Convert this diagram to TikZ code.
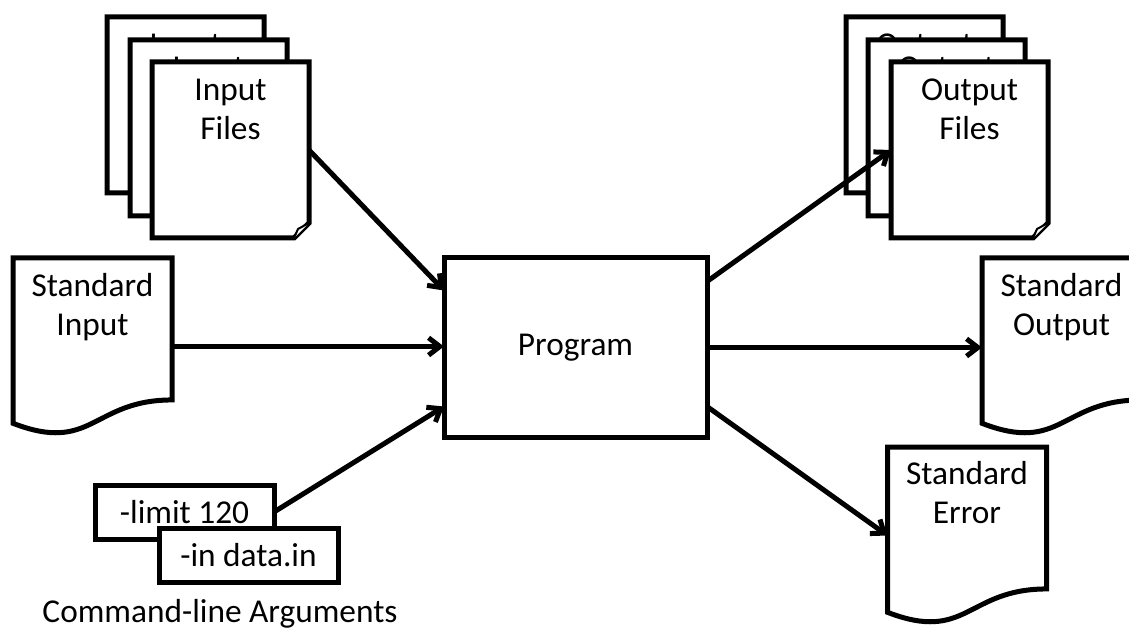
\documentclass[tikz,border=0pt]{standalone}
\usepackage{fontspec}
\setmainfont{Carlito}
\usetikzlibrary{arrows.meta,calc}
\newcommand\diagfont{\fontsize{25pt}{29.3pt}\selectfont}
% page with a folded bottom-right corner, drawn on the frame of node #1
\newcommand\filedoc[1]{%
  \filldraw[outline] (#1.north west) -- (#1.north east)
    -- ($(#1.south east)+(0,-15)$) -- ($(#1.south east)+(-15,0)$)
    -- (#1.south west) -- cycle;
  \filldraw[line width=1.5pt, fill=white, line join=round]
    ($(#1.south east)+(-15,0)$) -- ($(#1.south east)+(-11,-9)$)
    -- ($(#1.south east)+(0,-15)$);
}
% flowchart document shape with a wavy bottom edge on the frame of node #1
\newcommand\wavedoc[1]{%
  \filldraw[outline] (#1.north west) -- (#1.north east)
    -- ($(#1.north east)!0.802!(#1.south east)$)
    .. controls ($(#1.north)!0.802!(#1.south)$) and ($(#1.north)!1.1075!(#1.south)$)
    .. ($(#1.north west)!0.934!(#1.south west)$) -- cycle;
}
\begin{document}
\begin{tikzpicture}[x=0.75pt,y=-0.75pt,
  outline/.style={line width=3.75pt, draw=black, fill=white},
  filebox/.style={inner sep=0pt, outer sep=0pt, minimum width=117.75pt, minimum height=132pt},
  wavebox/.style={inner sep=0pt, outer sep=0pt, minimum width=119.25pt, minimum height=132.75pt},
  progbox/.style={draw, line width=3.75pt, fill=white, inner sep=0pt, outer sep=0pt,
    minimum width=197.25pt, minimum height=134.25pt, font=\diagfont},
  argbox/.style={draw, line width=3.75pt, fill=white, inner sep=0pt, outer sep=0pt,
    minimum width=134.25pt, minimum height=40.5pt, font=\diagfont},
  doctext/.style={font=\diagfont, align=center, inner sep=0pt, anchor=north},
  arrow/.style={line width=3.75pt, -{Straight Barb[length=8.5pt,width=13pt]}}
]
\clip (0,0) rectangle (1129,631);

% stack of input files
\node[filebox] (inback) at (185.5,105) {};
\filedoc{inback}
\node[doctext] (inbacktext) at ($(inback.north)+(0,11)$) {\strut Input\\Files};
\node[filebox] (inmid) at (208.5,128) {};
\filedoc{inmid}
\node[doctext] (inmidtext) at ($(inmid.north)+(0,11)$) {\strut Input\\Files};
\node[filebox] (infront) at (230.5,150) {};
\filedoc{infront}
\node[doctext] (infronttext) at ($(infront.north)+(0,11)$) {\strut Input\\Files};

% stack of output files
\node[filebox] (outback) at (924.5,105) {};
\filedoc{outback}
\node[doctext] (outbacktext) at ($(outback.north)+(0,11)$) {\strut Output\\Files};
\node[filebox] (outmid) at (946.5,128) {};
\filedoc{outmid}
\node[doctext] (outmidtext) at ($(outmid.north)+(0,11)$) {\strut Output\\Files};
\node[filebox] (outfront) at (969.5,150) {};
\filedoc{outfront}
\node[doctext] (outfronttext) at ($(outfront.north)+(0,11)$) {\strut Output\\Files};

% standard streams
\node[wavebox] (stdin) at (92.5,346.5) {};
\wavedoc{stdin}
\node[doctext] (stdintext) at ($(stdin.north)+(0,11)$) {\strut Standard\\Input};

\node[wavebox] (stdout) at (1061.5,346.5) {};
\wavedoc{stdout}
\node[doctext] (stdouttext) at ($(stdout.north)+(0,11)$) {\strut Standard\\Output};

\node[wavebox] (stderr) at (967,535.5) {};
\wavedoc{stderr}
\node[doctext] (stderrtext) at ($(stderr.north)+(0,10)$) {\strut Standard\\Error};

% program
\node[progbox] (prog) at (575.5,347.5) {Program};

% command-line arguments
\node[argbox] (limit) at (184.5,512) {-limit 120};
\node[argbox] (datain) at (248.5,555) {-in data.in};
\node[font=\diagfont, anchor=base, inner sep=0pt] (cmdlabel) at (220,622) {Command-line Arguments};

% data flow
\draw[arrow] (infront.east) -- ($(prog.west)+(0,-57)$);
\draw[arrow] (stdin.east) -- (stdin.east -| prog.west);
\draw[arrow] (limit.east) -- ($(prog.west)+(0,59)$);
\draw[arrow] ($(prog.east)+(0,-66)$) -- (outfront.west);
\draw[arrow] (prog.east) -- (prog.east -| stdout.west);
\draw[arrow] ($(prog.east)+(0,59)$) -- (stderr.west);
\end{tikzpicture}
\end{document}
